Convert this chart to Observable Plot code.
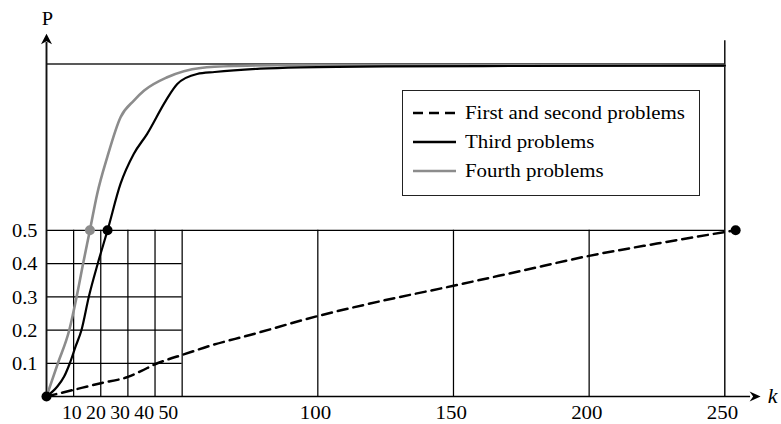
<!DOCTYPE html>
<html>
<head>
<meta charset="utf-8">
<script src="https://cdn.jsdelivr.net/npm/d3@7"></script>
<script src="https://cdn.jsdelivr.net/npm/@observablehq/plot@0.6"></script>
<style>
  body { margin: 0; background: #fff; }
  #wrap { position: relative; width: 781px; height: 424px; overflow: hidden; }
  #legend { position: absolute; left: 402px; top: 90px; width: 296px; height: 104px;
            border: 1.5px solid #222; background: #fff; box-sizing: content-box; }
  .row { position: absolute; left: 0; height: 24px; width: 296px; }
  .row svg { position: absolute; left: 10px; top: 0; }
  .row span { position: absolute; left: 62px; top: 0; line-height: 24px; font-family: 'Liberation Serif', 'Times New Roman', serif;
              font-size: 19px; color: #000; transform: scaleX(1.1); transform-origin: left center; white-space: nowrap; }
</style>
</head>
<body>
<div id="wrap"></div>
<script>
// ---------- data ----------
const seriesNames = ["First and second problems", "Third problems", "Fourth problems"];
// First and second problems (dashed)
const k12 = [0, 10, 20, 30, 35, 40, 45, 50, 60, 75, 100, 125, 150, 175, 200, 225, 254];
const p12 = [0, 0.02, 0.04, 0.059, 0.077, 0.097, 0.112, 0.125, 0.152, 0.185, 0.242, 0.29, 0.333, 0.378, 0.423, 0.46, 0.5];
// Third problems (black)
const k3 = [0, 4, 6.5, 8.6, 10.7, 12.9, 15.6, 18.9, 22.5, 27.3, 32.2, 37.1, 44, 48.2, 55.5, 62, 78.8, 93.6, 125, 175, 250];
const p3 = [0, 0.03, 0.06, 0.1, 0.15, 0.2, 0.3, 0.4, 0.5, 0.64, 0.73, 0.79, 0.89, 0.94, 0.97, 0.976, 0.986, 0.99, 0.993, 0.994, 0.995];
// Fourth problems (gray)
const k4 = [0, 4.2, 8.4, 11.1, 13.5, 16, 18.7, 22.4, 27.3, 32.2, 36, 44.5, 56.8, 70, 93.6, 150, 250];
const p4 = [0, 0.1, 0.2, 0.3, 0.4, 0.5, 0.61, 0.72, 0.84, 0.89, 0.92, 0.96, 0.988, 0.994, 0.997, 0.996, 0.995];
// k at which P = 0.5 for each series
const halfK = [254, 22.5, 16];
const halfP = [0.5, 0.5, 0.5];
// ticks
const xTicksFine = [10, 20, 30, 40, 50];
const xTicksCoarse = [100, 150, 200, 250];
const yTicks = [0.1, 0.2, 0.3, 0.4, 0.5];
const topP = 1;

// ---------- styles ----------
const colors = ["#000", "#000", "#8c8c8c"];
const FONT = "'Liberation Serif', 'Times New Roman', serif";
const GRID = {stroke: "#000", strokeWidth: 1.25};

const rows = (ks, ps) => ks.map((k, i) => ({k, p: ps[i]}));
const s12 = rows(k12, p12), s3 = rows(k3, p3), s4 = rows(k4, p4);
const halfDots = halfK.map((k, i) => ({k, p: halfP[i], c: colors[i]}));

const arrowRight = { draw(ctx) { ctx.moveTo(0, 0); ctx.lineTo(-11, -5); ctx.lineTo(-7.5, 0); ctx.lineTo(-11, 5); ctx.closePath(); } };
const arrowUp = { draw(ctx) { ctx.moveTo(0, 0); ctx.lineTo(-5.5, 10.5); ctx.lineTo(0, 7.5); ctx.lineTo(5.5, 10.5); ctx.closePath(); } };

const xMax = xTicksCoarse[xTicksCoarse.length - 1];
const fineMax = xTicksFine[xTicksFine.length - 1];
const gridTop = yTicks[yTicks.length - 1];

const fineLabels = xTicksFine.map((v, i) =>
  Plot.text([v], {x: d => d, y: 0, text: d => String(d), dy: 16.5, dx: -1.8 - 3 * i,
                  fontSize: 18, lineAnchor: "middle", textAnchor: "middle", fill: "#000"}));

const plot = Plot.plot({
  width: 781,
  height: 424,
  marginLeft: 46,
  marginRight: 56.7,
  marginTop: 63.5,
  marginBottom: 28,
  x: {domain: [0, xMax], axis: null},
  y: {domain: [0, topP], axis: null},
  style: {fontFamily: FONT, background: "#fff", color: "#000", overflow: "visible"},
  marks: [
    // fine grid
    Plot.ruleX(xTicksFine, {x: d => d, y1: 0, y2: gridTop, ...GRID}),
    Plot.ruleY(yTicks.filter(d => d < gridTop), {y: d => d, x1: 0, x2: fineMax, ...GRID}),
    // coarse grid
    Plot.ruleX(xTicksCoarse.filter(d => d < xMax), {x: d => d, y1: 0, y2: gridTop, ...GRID}),
    Plot.ruleX([xMax], {x: d => d, y1: 0, y2: 1.07, stroke: "#000", strokeWidth: 1.4}),
    Plot.ruleY([gridTop], {y: d => d, x1: 0, x2: xMax, ...GRID}),
    Plot.ruleY([topP], {y: d => d, x1: 0, x2: xMax, stroke: "#222", strokeWidth: 1.7}),
    // axes
    Plot.ruleY([0], {y: d => d, x1: 0, x2: 259.5, stroke: "#000", strokeWidth: 1.7}),
    Plot.ruleX([0], {x: d => d, y1: 0, y2: 1.065, stroke: "#111", strokeWidth: 1.9}),
    Plot.dot([263.2], {x: d => d, y: 0, symbol: arrowRight, fill: "#000", stroke: "none"}),
    Plot.dot([1.091], {x: 0, y: d => d, symbol: arrowUp, fill: "#000", stroke: "none"}),
    // curves
    Plot.line(s12, {x: "k", y: "p", stroke: colors[0], strokeWidth: 2.5, strokeDasharray: "10,6", curve: "monotone-x"}),
    Plot.line(s4, {x: "k", y: "p", stroke: colors[2], strokeWidth: 2.6, curve: "monotone-x"}),
    Plot.line(s3, {x: "k", y: "p", stroke: colors[1], strokeWidth: 2.2, curve: "monotone-x"}),
    // dots
    Plot.dot([{k: 0, p: 0}], {x: "k", y: "p", r: 5, fill: "#000", stroke: "none"}),
    Plot.dot(halfDots, {x: "k", y: "p", r: 5, fill: "c", stroke: "none"}),
    // tick labels
    Plot.text(yTicks, {x: 0, y: d => d, text: d => d.toFixed(1), dx: -9, dy: 1, textAnchor: "end",
                       lineAnchor: "middle", fontSize: 18.5, fill: "#000"}),
    ...fineLabels,
    Plot.text(xTicksCoarse, {x: d => d, y: 0, text: d => String(d), dx: -2.3, dy: 16, textAnchor: "middle",
                             lineAnchor: "middle", fontSize: 19, fill: "#000"}),
    // axis titles
    Plot.text(["P"], {x: 0, y: 1.1353, text: d => d, dx: 1, lineAnchor: "middle", fontSize: 18.5, fill: "#000"}),
    Plot.text(["k"], {x: 267.6, y: 0, text: d => d, lineAnchor: "middle", fontSize: 20, fontStyle: "italic", fill: "#000"})
  ]
});

// widen glyphs slightly like the reference typeface
plot.querySelectorAll("text").forEach(t => {
  const tr = t.getAttribute("transform") || "";
  t.setAttribute("transform", (tr + " scale(1.1,1)").trim());
});

const wrap = document.getElementById("wrap");
wrap.appendChild(plot);

// legend
const legend = document.createElement("div");
legend.id = "legend";
const rowTops = [10, 39, 68];
seriesNames.forEach((name, i) => {
  const row = document.createElement("div");
  row.className = "row";
  row.style.top = rowTops[i] + "px";
  const dash = i === 0 ? 'stroke-dasharray="10,6"' : "";
  const w = i === 0 ? 2.5 : i === 1 ? 2.4 : 2.6;
  row.innerHTML = `<svg width="44" height="24"><line x1="0" x2="43" y1="12" y2="12" stroke="${colors[i]}" stroke-width="${w}" ${dash}/></svg><span>${name}</span>`;
  legend.appendChild(row);
});
wrap.appendChild(legend);
</script>
</body>
</html>
